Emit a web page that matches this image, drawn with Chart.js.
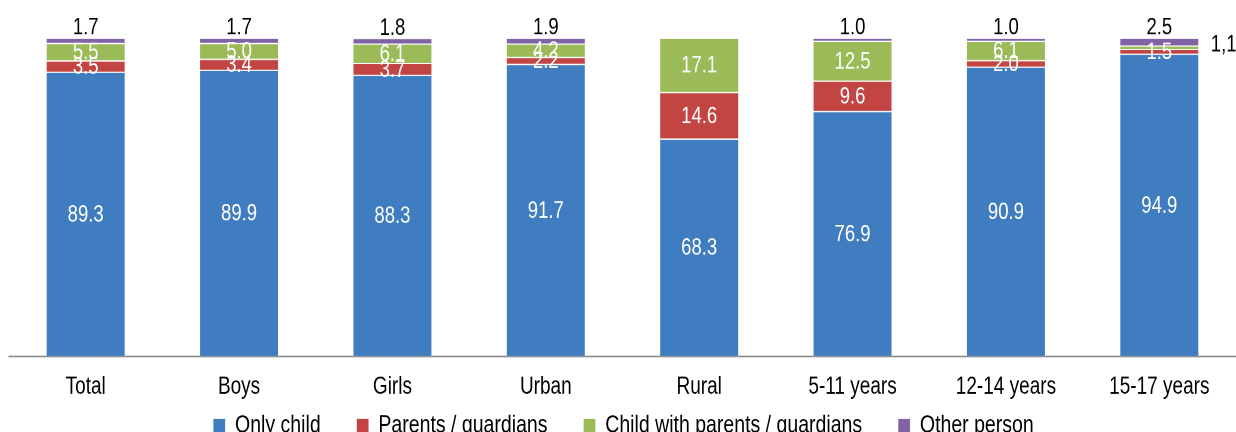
<!DOCTYPE html>
<html>
<head>
<meta charset="utf-8">
<script src="https://cdn.jsdelivr.net/npm/chart.js@4"></script>
<style>
  html, body { margin: 0; padding: 0; background: #fff; overflow: hidden; height: 432px; }
  /* the reference is stretched vertically, so is this */
  #wrap { width: 1236px; height: 394px; transform: scaleY(1.27); transform-origin: 0 0; }
</style>
</head>
<body>
<div id="wrap"><canvas id="myChart"></canvas></div>
<script>
const categories = ['Total', 'Boys', 'Girls', 'Urban', 'Rural', '5-11 years', '12-14 years', '15-17 years'];
const onlyChild = [89.3, 89.9, 88.3, 91.7, 68.3, 76.9, 90.9, 94.9];
const parents = [3.5, 3.4, 3.7, 2.2, 14.6, 9.6, 2.0, 1.5];
const withParents = [5.5, 5.0, 6.1, 4.2, 17.1, 12.5, 6.1, 1.1];
const otherPerson = [1.7, 1.7, 1.8, 1.9, 0, 1.0, 1.0, 2.5];

const FONT = '"Liberation Sans", Arial, sans-serif';
const LEGEND_SHIFT = 39;

// value labels, placed from the bar elements
const barLabels = {
  id: 'barLabels',
  afterLayout(chart) {
    // pull the legend up closer to the tick labels
    chart.legend.top -= LEGEND_SHIFT;
    chart.legend.bottom -= LEGEND_SHIFT;
  },
  afterDatasetsDraw(chart) {
    const ctx = chart.ctx;
    ctx.save();
    ctx.font = '18.5px ' + FONT;
    ctx.textBaseline = 'middle';
    chart.data.datasets.forEach((ds, di) => {
      const meta = chart.getDatasetMeta(di);
      meta.data.forEach((bar, i) => {
        const v = ds.data[i];
        if (!v) return;
        const txt = v.toFixed(1);
        if (di === 3) {
          ctx.fillStyle = '#000';
          ctx.textAlign = 'center';
          ctx.fillText(txt, bar.x, bar.y - 8);
        } else if (di === 2 && v < 1.5) {
          ctx.fillStyle = '#000';
          ctx.textAlign = 'left';
          ctx.fillText(txt.replace('.', ','), bar.x + bar.width / 2 + 12, (bar.y + bar.base) / 2 - 2);
        } else {
          ctx.fillStyle = '#fff';
          ctx.textAlign = 'center';
          ctx.fillText(txt, bar.x, (bar.y + bar.base) / 2 + 0.5);
        }
      });
    });
    ctx.restore();
  }
};

const ctx = document.getElementById('myChart');

const myChart = new Chart(ctx, {
  type: 'bar',
  data: {
    labels: categories,
    datasets: [
      { label: 'Only child', data: onlyChild, backgroundColor: '#3F7DC0' },
      { label: 'Parents / guardians', data: parents, backgroundColor: '#C34543' },
      { label: 'Child with parents / guardians', data: withParents, backgroundColor: '#9BBB59' },
      { label: 'Other person', data: otherPerson, backgroundColor: '#7F63A4' }
    ].map(d => Object.assign(d, {
      borderColor: 'rgba(255,255,255,0.5)',
      borderWidth: 0.5,
      borderSkipped: false,
      categoryPercentage: 1,
      barPercentage: 0.515
    }))
  },
  options: {
    responsive: true,
    maintainAspectRatio: false,
    devicePixelRatio: 2,
    animation: false,
    layout: { padding: { top: 30, left: 9, right: -2, bottom: 0 } },
    scales: {
      x: {
        stacked: true,
        grid: { display: false, drawTicks: false },
        border: { display: true, color: '#8a8a8a', width: 1.2 },
        ticks: {
          color: '#000',
          padding: 22,
          font: { family: FONT, size: 19, lineHeight: 0.2 }
        }
      },
      y: {
        stacked: true,
        display: false,
        min: 0,
        max: 100
      }
    },
    plugins: {
      legend: {
        position: 'bottom',
        labels: {
          color: '#000',
          boxWidth: 12,
          boxHeight: 11,
          padding: 36,
          font: { family: FONT, size: 19.5 }
        }
      },
      tooltip: { enabled: false }
    }
  },
  plugins: [barLabels]
});
</script>
</body>
</html>
